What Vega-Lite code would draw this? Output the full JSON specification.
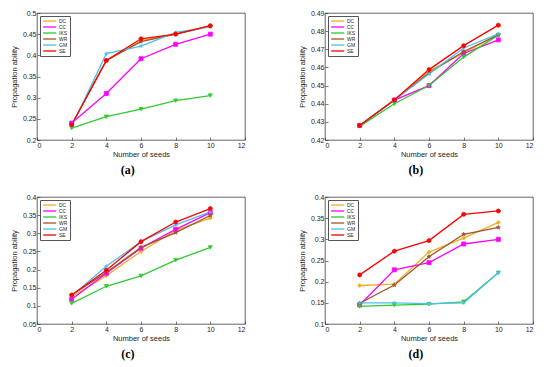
{
"$schema": "https://vega.github.io/schema/vega-lite/v6.json",
"background": "white",
"padding": {"left": 10, "top": 8, "right": 4, "bottom": 4},
"config": {
  "font": "Liberation Sans",
  "view": {"stroke": "#262626", "strokeWidth": 0.7},
  "axis": {"labelFontSize": 7, "titleFontSize": 7.5, "titleFontWeight": "normal", "labelColor": "#262626", "titleColor": "#262626", "domain": false, "grid": false, "tickColor": "#262626", "tickSize": -3, "tickWidth": 0.6, "labelPadding": 4},
  "axisX": {"titlePadding": 2},
  "axisY": {"titlePadding": 4},
  "legend": {"orient": "top-left", "offset": 3, "fillColor": "white", "strokeColor": "#555", "padding": 2, "labelFontSize": 5, "symbolSize": 14, "rowPadding": -1.2, "symbolType": "M-1,0H6", "symbolStrokeWidth": 1.3, "labelOffset": 11, "title": null, "labelColor": "#262626"},
  "title": {"orient": "bottom", "font": "Liberation Serif", "fontWeight": "bold", "fontSize": 12, "frame": "bounds", "anchor": "middle", "offset": 7, "color": "black"}
},
"data": {"values": [
{"p":"a","n":2,"s":"DC","v":0.236},{"p":"a","n":4,"s":"DC","v":0.388},{"p":"a","n":6,"s":"DC","v":0.435},{"p":"a","n":8,"s":"DC","v":0.450},{"p":"a","n":10,"s":"DC","v":0.470},
{"p":"a","n":2,"s":"CC","v":0.240},{"p":"a","n":4,"s":"CC","v":0.310},{"p":"a","n":6,"s":"CC","v":0.392},{"p":"a","n":8,"s":"CC","v":0.426},{"p":"a","n":10,"s":"CC","v":0.450},
{"p":"a","n":2,"s":"IKS","v":0.228},{"p":"a","n":4,"s":"IKS","v":0.255},{"p":"a","n":6,"s":"IKS","v":0.273},{"p":"a","n":8,"s":"IKS","v":0.293},{"p":"a","n":10,"s":"IKS","v":0.305},
{"p":"a","n":2,"s":"WR","v":0.236},{"p":"a","n":4,"s":"WR","v":0.388},{"p":"a","n":6,"s":"WR","v":0.4325},{"p":"a","n":8,"s":"WR","v":0.450},{"p":"a","n":10,"s":"WR","v":0.469},
{"p":"a","n":2,"s":"GM","v":0.232},{"p":"a","n":4,"s":"GM","v":0.404},{"p":"a","n":6,"s":"GM","v":0.422},{"p":"a","n":8,"s":"GM","v":0.454},{"p":"a","n":10,"s":"GM","v":0.467},
{"p":"a","n":2,"s":"SE","v":0.236},{"p":"a","n":4,"s":"SE","v":0.388},{"p":"a","n":6,"s":"SE","v":0.439},{"p":"a","n":8,"s":"SE","v":0.450},{"p":"a","n":10,"s":"SE","v":0.470},
{"p":"b","n":2,"s":"DC","v":0.428},{"p":"b","n":4,"s":"DC","v":0.442},{"p":"b","n":6,"s":"DC","v":0.458},{"p":"b","n":8,"s":"DC","v":0.468},{"p":"b","n":10,"s":"DC","v":0.478},
{"p":"b","n":2,"s":"CC","v":0.428},{"p":"b","n":4,"s":"CC","v":0.442},{"p":"b","n":6,"s":"CC","v":0.450},{"p":"b","n":8,"s":"CC","v":0.4677},{"p":"b","n":10,"s":"CC","v":0.4752},
{"p":"b","n":2,"s":"IKS","v":0.4275},{"p":"b","n":4,"s":"IKS","v":0.440},{"p":"b","n":6,"s":"IKS","v":0.450},{"p":"b","n":8,"s":"IKS","v":0.4657},{"p":"b","n":10,"s":"IKS","v":0.4778},
{"p":"b","n":2,"s":"WR","v":0.428},{"p":"b","n":4,"s":"WR","v":0.442},{"p":"b","n":6,"s":"WR","v":0.457},{"p":"b","n":8,"s":"WR","v":0.4688},{"p":"b","n":10,"s":"WR","v":0.478},
{"p":"b","n":2,"s":"GM","v":0.428},{"p":"b","n":4,"s":"GM","v":0.442},{"p":"b","n":6,"s":"GM","v":0.4564},{"p":"b","n":8,"s":"GM","v":0.4707},{"p":"b","n":10,"s":"GM","v":0.4785},
{"p":"b","n":2,"s":"SE","v":0.428},{"p":"b","n":4,"s":"SE","v":0.4421},{"p":"b","n":6,"s":"SE","v":0.4588},{"p":"b","n":8,"s":"SE","v":0.472},{"p":"b","n":10,"s":"SE","v":0.4833},
{"p":"c","n":2,"s":"DC","v":0.125},{"p":"c","n":4,"s":"DC","v":0.183},{"p":"c","n":6,"s":"DC","v":0.250},{"p":"c","n":8,"s":"DC","v":0.308},{"p":"c","n":10,"s":"DC","v":0.342},
{"p":"c","n":2,"s":"CC","v":0.118},{"p":"c","n":4,"s":"CC","v":0.190},{"p":"c","n":6,"s":"CC","v":0.259},{"p":"c","n":8,"s":"CC","v":0.311},{"p":"c","n":10,"s":"CC","v":0.357},
{"p":"c","n":2,"s":"IKS","v":0.107},{"p":"c","n":4,"s":"IKS","v":0.154},{"p":"c","n":6,"s":"IKS","v":0.1825},{"p":"c","n":8,"s":"IKS","v":0.226},{"p":"c","n":10,"s":"IKS","v":0.261},
{"p":"c","n":2,"s":"WR","v":0.130},{"p":"c","n":4,"s":"WR","v":0.192},{"p":"c","n":6,"s":"WR","v":0.261},{"p":"c","n":8,"s":"WR","v":0.302},{"p":"c","n":10,"s":"WR","v":0.349},
{"p":"c","n":2,"s":"GM","v":0.127},{"p":"c","n":4,"s":"GM","v":0.209},{"p":"c","n":6,"s":"GM","v":0.277},{"p":"c","n":8,"s":"GM","v":0.323},{"p":"c","n":10,"s":"GM","v":0.359},
{"p":"c","n":2,"s":"SE","v":0.130},{"p":"c","n":4,"s":"SE","v":0.198},{"p":"c","n":6,"s":"SE","v":0.277},{"p":"c","n":8,"s":"SE","v":0.331},{"p":"c","n":10,"s":"SE","v":0.368},
{"p":"d","n":2,"s":"DC","v":0.191},{"p":"d","n":4,"s":"DC","v":0.194},{"p":"d","n":6,"s":"DC","v":0.270},{"p":"d","n":8,"s":"DC","v":0.303},{"p":"d","n":10,"s":"DC","v":0.340},
{"p":"d","n":2,"s":"CC","v":0.145},{"p":"d","n":4,"s":"CC","v":0.228},{"p":"d","n":6,"s":"CC","v":0.245},{"p":"d","n":8,"s":"CC","v":0.289},{"p":"d","n":10,"s":"CC","v":0.300},
{"p":"d","n":2,"s":"IKS","v":0.1415},{"p":"d","n":4,"s":"IKS","v":0.1447},{"p":"d","n":6,"s":"IKS","v":0.147},{"p":"d","n":8,"s":"IKS","v":0.1525},{"p":"d","n":10,"s":"IKS","v":0.221},
{"p":"d","n":2,"s":"WR","v":0.149},{"p":"d","n":4,"s":"WR","v":0.192},{"p":"d","n":6,"s":"WR","v":0.259},{"p":"d","n":8,"s":"WR","v":0.312},{"p":"d","n":10,"s":"WR","v":0.328},
{"p":"d","n":2,"s":"GM","v":0.150},{"p":"d","n":4,"s":"GM","v":0.150},{"p":"d","n":6,"s":"GM","v":0.148},{"p":"d","n":8,"s":"GM","v":0.150},{"p":"d","n":10,"s":"GM","v":0.221},
{"p":"d","n":2,"s":"SE","v":0.216},{"p":"d","n":4,"s":"SE","v":0.272},{"p":"d","n":6,"s":"SE","v":0.297},{"p":"d","n":8,"s":"SE","v":0.359},{"p":"d","n":10,"s":"SE","v":0.367}
]},
"columns": 2,
"spacing": {"row": 16, "column": 52},
"resolve": {"scale": {"x": "independent", "y": "independent"}, "legend": {"color": "independent"}},
"concat": [
 {"title": {"text": "(a)"}, "width": 208, "height": 127,
  "transform": [{"filter": "datum.p == 'a'"}],
  "encoding": {
   "x": {"field": "n", "type": "quantitative", "scale": {"domain": [0, 12]}, "axis": {"values": [0,2,4,6,8,10,12], "title": "Number of seeds"}},
   "y": {"field": "v", "type": "quantitative", "scale": {"domain": [0.2, 0.5]}, "axis": {"values": [0.2,0.25,0.3,0.35,0.4,0.45,0.5], "format": "~g", "title": "Propagation ability"}}
  },
  "layer": [
   {"mark": {"type": "line", "strokeWidth": 1.3},
    "encoding": {"color": {"field": "s", "type": "nominal", "scale": {"domain": ["DC","CC","IKS","WR","GM","SE"], "range": ["#EDB120","#FF00FF","#2ECC2E","#A0522D","#4DBEEE","#FF0000"]}}}},
   {"mark": {"type": "point", "filled": true, "size": 16, "opacity": 1, "strokeWidth": 0.8},
    "encoding": {
     "fill": {"field": "s", "type": "nominal", "scale": {"domain": ["DC","CC","IKS","WR","GM","SE"], "range": ["#EDB120","#FF00FF","#2ECC2E","#A0522D","#4DBEEE","#FF0000"]}, "legend": null},
     "stroke": {"field": "s", "type": "nominal", "scale": {"domain": ["DC","CC","IKS","WR","GM","SE"], "range": ["#EDB120","#FF00FF","#2ECC2E","#A0522D","#4DBEEE","#FF0000"]}, "legend": null},
     "shape": {"field": "s", "type": "nominal", "scale": {"domain": ["DC","CC","IKS","WR","GM","SE"], "range": ["diamond","square","triangle-down","M0,-1L0.2245,-0.309L0.951,-0.309L0.363,0.118L0.588,0.809L0,0.382L-0.588,0.809L-0.363,0.118L-0.951,-0.309L-0.2245,-0.309Z","M-1,0H1M0,-1V1M-0.7,-0.7L0.7,0.7M-0.7,0.7L0.7,-0.7","circle"]}, "legend": null}
    }}
  ]},
 {"title": {"text": "(b)"}, "width": 208, "height": 127,
  "transform": [{"filter": "datum.p == 'b'"}],
  "encoding": {
   "x": {"field": "n", "type": "quantitative", "scale": {"domain": [0, 12]}, "axis": {"values": [0,2,4,6,8,10,12], "title": "Number of seeds"}},
   "y": {"field": "v", "type": "quantitative", "scale": {"domain": [0.42, 0.49]}, "axis": {"values": [0.42,0.43,0.44,0.45,0.46,0.47,0.48,0.49], "format": "~g", "title": "Propagation ability"}}
  },
  "layer": [
   {"mark": {"type": "line", "strokeWidth": 1.3},
    "encoding": {"color": {"field": "s", "type": "nominal", "scale": {"domain": ["DC","CC","IKS","WR","GM","SE"], "range": ["#EDB120","#FF00FF","#2ECC2E","#A0522D","#4DBEEE","#FF0000"]}}}},
   {"mark": {"type": "point", "filled": true, "size": 16, "opacity": 1, "strokeWidth": 0.8},
    "encoding": {
     "fill": {"field": "s", "type": "nominal", "scale": {"domain": ["DC","CC","IKS","WR","GM","SE"], "range": ["#EDB120","#FF00FF","#2ECC2E","#A0522D","#4DBEEE","#FF0000"]}, "legend": null},
     "stroke": {"field": "s", "type": "nominal", "scale": {"domain": ["DC","CC","IKS","WR","GM","SE"], "range": ["#EDB120","#FF00FF","#2ECC2E","#A0522D","#4DBEEE","#FF0000"]}, "legend": null},
     "shape": {"field": "s", "type": "nominal", "scale": {"domain": ["DC","CC","IKS","WR","GM","SE"], "range": ["diamond","square","triangle-down","M0,-1L0.2245,-0.309L0.951,-0.309L0.363,0.118L0.588,0.809L0,0.382L-0.588,0.809L-0.363,0.118L-0.951,-0.309L-0.2245,-0.309Z","M-1,0H1M0,-1V1M-0.7,-0.7L0.7,0.7M-0.7,0.7L0.7,-0.7","circle"]}, "legend": null}
    }}
  ]},
 {"title": {"text": "(c)"}, "width": 208, "height": 127,
  "transform": [{"filter": "datum.p == 'c'"}],
  "encoding": {
   "x": {"field": "n", "type": "quantitative", "scale": {"domain": [0, 12]}, "axis": {"values": [0,2,4,6,8,10,12], "title": "Number of seeds"}},
   "y": {"field": "v", "type": "quantitative", "scale": {"domain": [0.05, 0.4]}, "axis": {"values": [0.05,0.1,0.15,0.2,0.25,0.3,0.35,0.4], "format": "~g", "title": "Propagation ability"}}
  },
  "layer": [
   {"mark": {"type": "line", "strokeWidth": 1.3},
    "encoding": {"color": {"field": "s", "type": "nominal", "scale": {"domain": ["DC","CC","IKS","WR","GM","SE"], "range": ["#EDB120","#FF00FF","#2ECC2E","#A0522D","#4DBEEE","#FF0000"]}}}},
   {"mark": {"type": "point", "filled": true, "size": 16, "opacity": 1, "strokeWidth": 0.8},
    "encoding": {
     "fill": {"field": "s", "type": "nominal", "scale": {"domain": ["DC","CC","IKS","WR","GM","SE"], "range": ["#EDB120","#FF00FF","#2ECC2E","#A0522D","#4DBEEE","#FF0000"]}, "legend": null},
     "stroke": {"field": "s", "type": "nominal", "scale": {"domain": ["DC","CC","IKS","WR","GM","SE"], "range": ["#EDB120","#FF00FF","#2ECC2E","#A0522D","#4DBEEE","#FF0000"]}, "legend": null},
     "shape": {"field": "s", "type": "nominal", "scale": {"domain": ["DC","CC","IKS","WR","GM","SE"], "range": ["diamond","square","triangle-down","M0,-1L0.2245,-0.309L0.951,-0.309L0.363,0.118L0.588,0.809L0,0.382L-0.588,0.809L-0.363,0.118L-0.951,-0.309L-0.2245,-0.309Z","M-1,0H1M0,-1V1M-0.7,-0.7L0.7,0.7M-0.7,0.7L0.7,-0.7","circle"]}, "legend": null}
    }}
  ]},
 {"title": {"text": "(d)"}, "width": 208, "height": 127,
  "transform": [{"filter": "datum.p == 'd'"}],
  "encoding": {
   "x": {"field": "n", "type": "quantitative", "scale": {"domain": [0, 12]}, "axis": {"values": [0,2,4,6,8,10,12], "title": "Number of seeds"}},
   "y": {"field": "v", "type": "quantitative", "scale": {"domain": [0.1, 0.4]}, "axis": {"values": [0.1,0.15,0.2,0.25,0.3,0.35,0.4], "format": "~g", "title": "Propagation ability"}}
  },
  "layer": [
   {"mark": {"type": "line", "strokeWidth": 1.3},
    "encoding": {"color": {"field": "s", "type": "nominal", "scale": {"domain": ["DC","CC","IKS","WR","GM","SE"], "range": ["#EDB120","#FF00FF","#2ECC2E","#A0522D","#4DBEEE","#FF0000"]}}}},
   {"mark": {"type": "point", "filled": true, "size": 16, "opacity": 1, "strokeWidth": 0.8},
    "encoding": {
     "fill": {"field": "s", "type": "nominal", "scale": {"domain": ["DC","CC","IKS","WR","GM","SE"], "range": ["#EDB120","#FF00FF","#2ECC2E","#A0522D","#4DBEEE","#FF0000"]}, "legend": null},
     "stroke": {"field": "s", "type": "nominal", "scale": {"domain": ["DC","CC","IKS","WR","GM","SE"], "range": ["#EDB120","#FF00FF","#2ECC2E","#A0522D","#4DBEEE","#FF0000"]}, "legend": null},
     "shape": {"field": "s", "type": "nominal", "scale": {"domain": ["DC","CC","IKS","WR","GM","SE"], "range": ["diamond","square","triangle-down","M0,-1L0.2245,-0.309L0.951,-0.309L0.363,0.118L0.588,0.809L0,0.382L-0.588,0.809L-0.363,0.118L-0.951,-0.309L-0.2245,-0.309Z","M-1,0H1M0,-1V1M-0.7,-0.7L0.7,0.7M-0.7,0.7L0.7,-0.7","circle"]}, "legend": null}
    }}
  ]}
]
}
